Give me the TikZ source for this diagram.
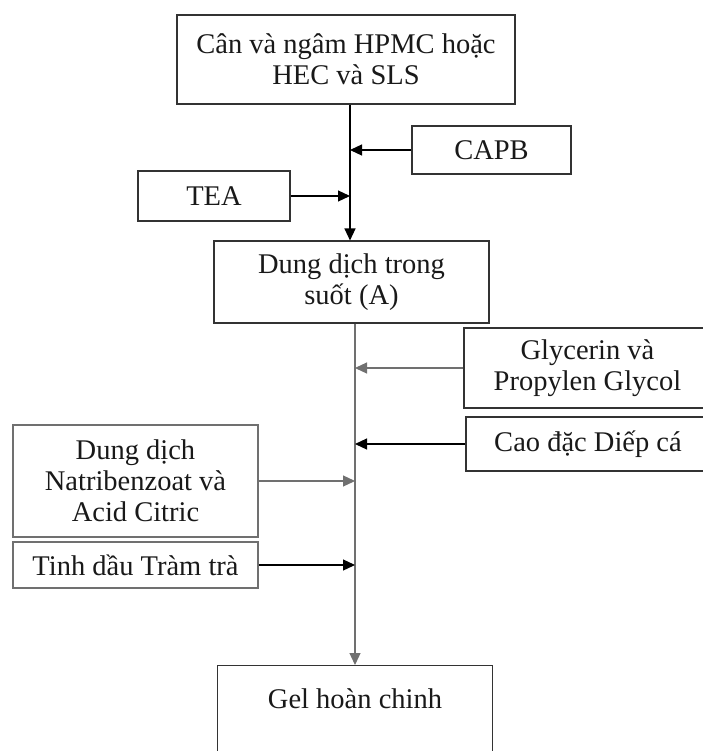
\documentclass[tikz,border=0pt]{standalone}
\usepackage{fontspec}
\setmainfont{Liberation Serif}
\usetikzlibrary{arrows.meta}
\definecolor{boxline}{HTML}{333333}
\definecolor{grayline}{HTML}{707070}
\tikzset{
  stepbox/.style={draw=boxline, line width=1.1pt, inner sep=0pt, align=center,
    font=\fontsize{28.5}{31}\selectfont, text=black!90},
  arr/.style={line width=1.2pt, draw=black, -{Triangle[length=12pt,width=11pt]}},
  garr/.style={arr, draw=grayline},
}
\begin{document}
\begin{tikzpicture}[x=1pt,y=-1pt]
\useasboundingbox (0,0) rectangle (702,751);
\fill[white] (0,0) rectangle (702,751);
\node[stepbox, minimum width=338pt, minimum height=89pt] (top) at (346,59.5) {Cân và ngâm HPMC hoặc\\HEC và SLS};
\node[stepbox, minimum width=159pt, minimum height=48pt] (capb) at (491.5,150) {CAPB};
\node[stepbox, minimum width=152pt, minimum height=50pt] (tea) at (214,196) {TEA};
\node[stepbox, minimum width=275pt, minimum height=82pt] (A) at (351.5,282) {Dung dịch trong\\suốt (A)};
\node[stepbox, minimum width=247pt, minimum height=80pt] (glyc) at (587.5,368) {Glycerin và\\Propylen Glycol};
\node[stepbox, minimum width=244pt, minimum height=54pt] (cao) at (588,444) {Cao đặc Diếp cá};
\node[stepbox, draw=grayline, minimum width=245pt, minimum height=112pt] (natri) at (135.5,481) {Dung dịch\\Natribenzoat và\\Acid Citric};
\node[stepbox, draw=grayline, minimum width=245pt, minimum height=46pt] (tinh) at (135.5,565) {Tinh dầu Tràm trà};
\node[stepbox, anchor=north, minimum width=275pt, text height=43pt, text depth=92pt] (gel) at (355,665) {Gel hoàn chinh};
\coordinate (s1) at (350,104);
\coordinate (s2) at (355,323);
\draw[arr] (top.south -| s1) -- (A.north -| s1);
\draw[arr] (capb.west) -- (capb.west -| s1);
\draw[arr] (tea.east) -- (tea.east -| s1);
\draw[garr] (A.south -| s2) -- (gel.north);
\draw[garr] (glyc.west) -- (glyc.west -| s2);
\draw[arr] (cao.west) -- (cao.west -| s2);
\draw[garr] (natri.east) -- (natri.east -| s2);
\draw[arr] (tinh.east) -- (tinh.east -| s2);
\end{tikzpicture}
\end{document}
